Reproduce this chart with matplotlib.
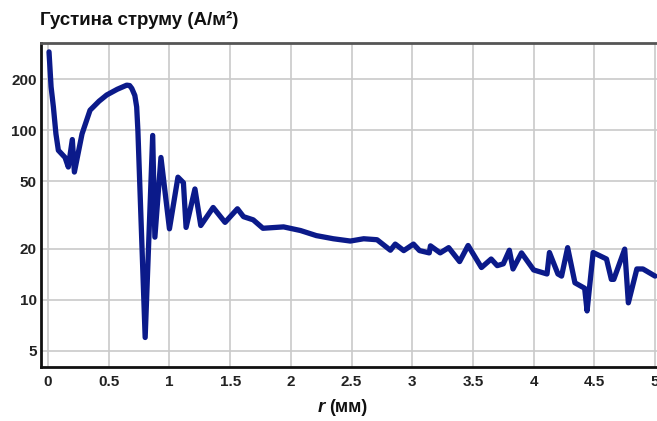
import numpy as np
import matplotlib.pyplot as plt

plt.rcParams['font.family'] = ['Liberation Sans', 'DejaVu Sans']

# radial position (mm) and current density (A/m^2)
r_mm = [0.008, 0.025, 0.044, 0.065, 0.085, 0.14, 0.167, 0.2, 0.217, 0.28,
        0.346, 0.42, 0.483, 0.57, 0.648, 0.672, 0.69, 0.715, 0.73, 0.74,
        0.8, 0.862, 0.88, 0.93, 1.0, 1.07, 1.115, 1.137, 1.21, 1.258,
        1.36, 1.458, 1.56, 1.61, 1.69, 1.77, 1.94, 2.08, 2.21, 2.35,
        2.49, 2.60, 2.71, 2.82, 2.86, 2.93, 3.01, 3.06, 3.14, 3.15,
        3.23, 3.30, 3.39, 3.46, 3.57, 3.65, 3.70, 3.75, 3.80, 3.83,
        3.90, 4.0, 4.11, 4.13, 4.20, 4.23, 4.28, 4.34, 4.42, 4.44,
        4.49, 4.60, 4.64, 4.66, 4.75, 4.78, 4.85, 4.90, 5.0]
density = [289, 180, 137, 95, 76, 69, 60.6, 88, 56.6, 95,
           131, 148, 161, 174, 184, 183, 176, 160, 137, 100,
           6.0, 93, 23.4, 69, 26.2, 52.8, 49, 26.7, 45, 27.4,
           35, 28.6, 34.4, 30.9, 29.6, 26.4, 26.9, 25.6, 23.9, 22.9,
           22.2, 22.9, 22.6, 19.6, 21.3, 19.5, 21.3, 19.5, 18.9, 20.8,
           18.9, 20.3, 16.8, 20.9, 15.5, 17.4, 15.9, 16.3, 19.6, 15.2,
           18.9, 15.0, 14.2, 19.0, 14.2, 13.8, 20.3, 12.6, 11.7, 8.6,
           19.0, 17.4, 13.2, 13.2, 19.9, 9.6, 15.2, 15.2, 13.8]

x_ticks = [0, 0.5, 1, 1.5, 2, 2.5, 3, 3.5, 4, 4.5, 5]
x_tick_labels = ['0', '0.5', '1', '1.5', '2', '2.5', '3', '3.5', '4', '4.5', '5']
y_ticks = [5, 10, 20, 50, 100, 200]

fig = plt.figure(figsize=(6.57, 4.21), dpi=100)
ax = fig.add_axes([41 / 657, 1 - 367 / 421, 1 - 41 / 657, (367 - 43) / 421])

ax.plot(r_mm, density, color='#0b1a8a', lw=3.8, solid_joinstyle='round',
        solid_capstyle='round', zorder=3)

ax.set_yscale('log')
ax.set_xlim(-0.058, 5.016)
ax.set_ylim(4.02, 326)

ax.set_xticks(x_ticks)
ax.set_xticklabels(x_tick_labels)
ax.set_yticks(y_ticks)
ax.set_yticklabels([str(v) for v in y_ticks])
ax.yaxis.set_minor_locator(plt.NullLocator())
ax.tick_params(length=0, labelsize=11, labelcolor='#222222')
ax.tick_params(axis='x', pad=6)
ax.tick_params(axis='y', pad=3)
for lbl in ax.get_xticklabels() + ax.get_yticklabels():
    lbl.set_fontweight('bold')

ax.grid(True, color='#cacaca', lw=1.2)
ax.set_axisbelow(True)

for side in ['left', 'bottom']:
    ax.spines[side].set_color('#111111')
    ax.spines[side].set_linewidth(2)
ax.spines['top'].set_color('#555555')
ax.spines['top'].set_linewidth(2)
ax.spines['right'].set_visible(False)

fig.text(40 / 657, 1 - 20 / 421, 'Густина струму (А/м²)', fontsize=13.5,
         fontweight='bold', color='#111111', va='center', ha='left')

fig.text(325 / 657, 1 - 408 / 421, 'r', fontsize=13.5, fontweight='bold',
         style='italic', color='#111111', va='center', ha='right')
fig.text(329 / 657, 1 - 408 / 421, '(мм)', fontsize=13, fontweight='bold',
         color='#111111', va='center', ha='left')

fig.savefig('out.png', dpi=100)
